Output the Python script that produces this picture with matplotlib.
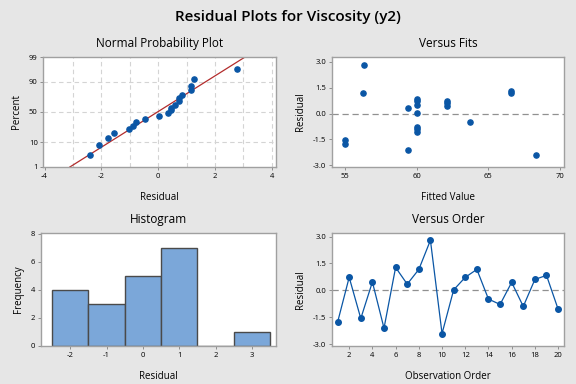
import numpy as np
import matplotlib
matplotlib.use("Agg")
import matplotlib.pyplot as plt
from statistics import NormalDist

# Residuals by observation order
order = np.arange(1, 21)
residuals = np.array([-1.77, 0.73, -1.56, 0.47, -2.10, 1.28, 0.35, 1.17, 2.79, -2.40,
                      0.03, 0.73, 1.17, -0.48, -0.78, 0.45, -0.89, 0.61, 0.84, -1.04])
# Fitted values for each observation (Versus Fits panel)
fitted = np.array([55.0, 62.1, 55.0, 60.0, 59.4, 66.6, 59.4, 56.25, 56.35, 68.3,
                   60.0, 60.0, 66.6, 63.7, 60.0, 62.1, 60.0, 62.1, 60.0, 60.0])
hist_bins = [-2.5, -1.5, -0.5, 0.5, 1.5, 2.5, 3.5]

pct_ticks = [1, 10, 50, 90, 99]

blue = "#0a56a5"
bar_color = "#7ba7d9"
red = "#b22c2c"
bg = "#e6e6e6"
spine_col = "#a0a0a0"
grid_col = "#d4d4d4"

plt.rcParams["font.family"] = ["Open Sans", "DejaVu Sans"]
plt.rcParams["axes.unicode_minus"] = False

nd = NormalDist()
fig = plt.figure(figsize=(5.76, 3.84), dpi=100, facecolor=bg)
fig.suptitle("Residual Plots for Viscosity (y2)", fontsize=11, fontweight="semibold", y=0.975)

ax1 = fig.add_axes([0.075, 0.565, 0.404, 0.287])
ax2 = fig.add_axes([0.576, 0.565, 0.403, 0.287])
ax3 = fig.add_axes([0.071, 0.099, 0.408, 0.294])
ax4 = fig.add_axes([0.576, 0.099, 0.403, 0.294])


def style(ax, title, xlabel, ylabel):
    ax.set_title(title, fontsize=8.5, pad=7)
    ax.set_xlabel(xlabel, fontsize=7, labelpad=9)
    ax.set_ylabel(ylabel, fontsize=7, labelpad=5)
    for s in ax.spines.values():
        s.set_color(spine_col)
        s.set_linewidth(1.0)
    ax.tick_params(labelsize=5.5, length=2.5, width=0.6, color="#808080", pad=1.5)


# Normal probability plot
n = len(residuals)
srt = np.sort(residuals)
p = (np.arange(1, n + 1) - 0.3) / (n + 0.4)
z = np.array([nd.inv_cdf(v) for v in p])
mu, sd = residuals.mean(), residuals.std(ddof=1)
zt = [nd.inv_cdf(t / 100) for t in pct_ticks]
zlo, zhi = nd.inv_cdf(0.01), nd.inv_cdf(0.99)
ax1.set_xlim(-4.05, 4.15)
ax1.set_ylim(zlo - 0.01, zhi + 0.01)
ax1.set_yticks(zt)
ax1.set_yticklabels([str(t) for t in pct_ticks])
ax1.set_xticks([-4, -2, 0, 2, 4])
for xv in [-3, -2, -1, 0, 1, 2, 3, 4]:
    ax1.axvline(xv, color=grid_col, ls=(0, (4, 3)), lw=0.8, zorder=0)
for yv in zt[1:4]:
    ax1.axhline(yv, color=grid_col, ls=(0, (4, 3)), lw=0.8, zorder=0)
xl = np.array([mu + sd * (zlo - 0.01), mu + sd * (zhi + 0.01)])
ax1.plot(xl, (xl - mu) / sd, color=red, lw=0.9, zorder=2)
ax1.scatter(srt, z, s=14, color=blue, zorder=3)
style(ax1, "Normal Probability Plot", "Residual", "Percent")

# Versus fits
ax2.axhline(0, color="#909090", ls=(0, (5, 3)), lw=0.9, zorder=1)
ax2.scatter(fitted, residuals, s=14, color=blue, zorder=3)
ax2.set_xlim(54.07, 70.28)
ax2.set_ylim(-3.1, 3.29)
ax2.set_xticks([55, 60, 65, 70])
ax2.set_yticks([-3.0, -1.5, 0.0, 1.5, 3.0])
ax2.set_yticklabels(["-3.0", "-1.5", "0.0", "1.5", "3.0"])
style(ax2, "Versus Fits", "Fitted Value", "Residual")

# Histogram
ax3.hist(residuals, bins=hist_bins, color=bar_color, edgecolor="#4a4a4a", linewidth=1.0)
ax3.set_xlim(-2.81, 3.66)
ax3.set_ylim(0, 8.05)
ax3.set_xticks([-2, -1, 0, 1, 2, 3])
ax3.set_yticks([0, 2, 4, 6, 8])
style(ax3, "Histogram", "Residual", "Frequency")

# Versus order
ax4.axhline(0, color="#909090", ls=(0, (5, 3)), lw=0.9, zorder=1)
ax4.plot(order, residuals, color=blue, lw=0.9, marker="o", ms=4, zorder=3)
ax4.set_xlim(0.5, 20.5)
ax4.set_ylim(-3.09, 3.19)
ax4.set_xticks(np.arange(2, 21, 2))
ax4.set_yticks([-3.0, -1.5, 0.0, 1.5, 3.0])
ax4.set_yticklabels(["-3.0", "-1.5", "0.0", "1.5", "3.0"])
style(ax4, "Versus Order", "Observation Order", "Residual")

fig.savefig("out.png", dpi=100, facecolor=bg)
